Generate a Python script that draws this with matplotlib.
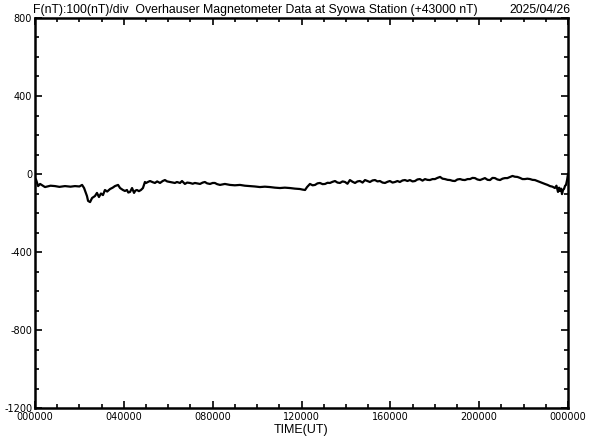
import matplotlib
matplotlib.use("Agg")
import matplotlib.pyplot as plt
from matplotlib.ticker import MultipleLocator

plt.rcParams["axes.unicode_minus"] = False

# time (hours UT) and F - 43000 (nT)
hours = [0.0, 0.05, 0.14, 0.23, 0.45, 0.70, 0.90, 1.10, 1.35, 1.60, 1.80, 2.00, 2.12, 2.21,
         2.34, 2.39, 2.48, 2.57, 2.70, 2.79, 2.88, 2.97, 3.06, 3.15, 3.25, 3.38, 3.50,
         3.60, 3.74, 3.83, 3.96, 4.05, 4.14, 4.20, 4.28, 4.37, 4.46, 4.52, 4.59, 4.68,
         4.77, 4.86, 4.95, 5.00, 5.10, 5.18, 5.30, 5.40, 5.50, 5.63, 5.75, 5.85, 5.95,
         6.08, 6.20, 6.30, 6.39, 6.53, 6.62, 6.75, 6.85, 6.98, 7.10, 7.20, 7.30, 7.43,
         7.55, 7.65, 7.75, 7.88, 8.00, 8.10, 8.20, 8.33, 8.55, 8.78, 9.00, 9.23, 9.45,
         9.68, 9.90, 10.13, 10.35, 10.58, 10.80, 11.03, 11.25, 11.48, 11.70, 11.93, 12.05,
         12.16, 12.25, 12.38, 12.50, 12.61, 12.72, 12.83, 12.95, 13.06, 13.17, 13.28,
         13.40, 13.51, 13.62, 13.73, 13.85, 13.96, 14.07, 14.18, 14.30, 14.41, 14.52,
         14.63, 14.75, 14.86, 14.97, 15.08, 15.20, 15.31, 15.42, 15.53, 15.65, 15.76,
         15.87, 15.98, 16.10, 16.21, 16.32, 16.43, 16.55, 16.66, 16.77, 16.88, 17.00,
         17.11, 17.22, 17.33, 17.45, 17.56, 17.67, 17.78, 17.90, 18.01, 18.12, 18.24,
         18.35, 18.46, 18.58, 18.69, 18.80, 18.91, 19.02, 19.14, 19.25, 19.36, 19.48,
         19.59, 19.70, 19.81, 19.92, 20.04, 20.15, 20.26, 20.38, 20.49, 20.60, 20.71,
         20.82, 20.94, 21.05, 21.16, 21.27, 21.39, 21.50, 21.61, 21.72, 21.84, 21.95,
         22.06, 22.17, 22.29, 22.40, 22.51, 22.62, 22.74, 22.85, 22.96, 23.08, 23.19,
         23.30, 23.41, 23.48, 23.55, 23.60, 23.64, 23.69, 23.73, 23.78, 23.82, 23.87,
         23.91, 23.96, 24.0]
f_nT = [-20, -30, -62, -51, -67, -60, -62, -66, -62, -65, -62, -64, -56, -72,
        -113, -138, -144, -123, -113, -97, -118, -100, -108, -82, -90, -77, -70,
        -62, -56, -72, -82, -87, -82, -95, -92, -72, -97, -85, -82, -88,
        -82, -72, -41, -46, -40, -36, -42, -46, -38, -46, -36, -31, -38,
        -41, -44, -46, -41, -46, -36, -51, -44, -46, -50, -46, -48, -51,
        -44, -41, -48, -51, -46, -46, -52, -56, -51, -56, -58, -56, -60,
        -62, -64, -67, -65, -67, -70, -72, -70, -72, -75, -77, -80,
        -82, -67, -51, -58, -56, -48, -46, -52, -51, -45, -46,
        -40, -36, -44, -46, -38, -41, -50, -31, -40, -46, -38,
        -36, -44, -31, -36, -41, -33, -31, -38, -36, -44, -46,
        -40, -36, -44, -41, -36, -41, -33, -31, -36, -31, -38,
        -36, -28, -26, -34, -26, -30, -31, -26, -26, -20, -15,
        -24, -26, -30, -31, -35, -36, -28, -26, -30, -31, -26,
        -26, -20, -21, -28, -31, -26, -21, -30, -31, -20, -21,
        -28, -31, -24, -21, -21, -15, -10, -14, -15, -20, -26,
        -26, -24, -26, -30, -31, -36, -41, -46, -51, -56, -62,
        -65, -72, -60, -92, -70, -87, -75, -103, -80, -77, -60,
        -56, -30, 0]

fig = plt.figure(figsize=(5.92, 4.40), dpi=100)
ax = fig.add_axes([35 / 592, 32 / 440, 533 / 592, 390 / 440])

ax.plot(hours, f_nT, color="black", lw=1.6)

ax.set_xlim(0, 24)
ax.set_ylim(-1200, 800)

ax.xaxis.set_major_locator(MultipleLocator(4))
ax.xaxis.set_minor_locator(MultipleLocator(1))
ax.yaxis.set_major_locator(MultipleLocator(400))
ax.yaxis.set_minor_locator(MultipleLocator(100))

xlabels = ["%02d0000" % (h % 24) for h in range(0, 25, 4)]
ax.set_xticks(range(0, 25, 4))
ax.set_xticklabels(xlabels)

ax.tick_params(which="both", direction="in", top=True, right=True,
               width=1.2, labelsize=7, pad=3)
ax.tick_params(which="major", length=5)
ax.tick_params(which="minor", length=3)
ax.tick_params(axis="y", pad=2)
for s in ax.spines.values():
    s.set_linewidth(1.8)

ax.set_xlabel("TIME(UT)", fontsize=9, labelpad=1, family="Liberation Sans")

fig.text(33 / 592, 1 - 13 / 440,
         "F(nT):100(nT)/div  Overhauser Magnetometer Data at Syowa Station (+43000 nT)",
         fontsize=8.8, family="Liberation Sans", ha="left", va="baseline")
fig.text(570 / 592, 1 - 13 / 440, "2025/04/26",
         fontsize=8.8, family="Liberation Sans", ha="right", va="baseline")

fig.savefig("out.png", dpi=100)
